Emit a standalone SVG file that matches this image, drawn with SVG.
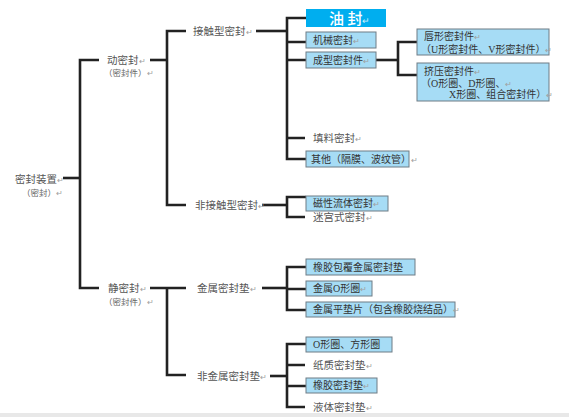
<svg xmlns="http://www.w3.org/2000/svg" width="569" height="417" viewBox="0 0 569 417">
<style>
.ln{fill:none;stroke:#222;stroke-width:2.6;stroke-linejoin:miter;stroke-linecap:butt}
.bx{fill:#a6dcf5;stroke:#6f7c85;stroke-width:1}
.t{font-family:"Liberation Serif","Noto Sans CJK SC",serif;font-size:10.5px;fill:#555}
.tb{font-family:"Liberation Serif","Noto Sans CJK SC",serif;font-size:10px;fill:#333}
.ts{font-family:"Liberation Serif","Noto Sans CJK SC",serif;font-size:8.5px;fill:#666}
.r{fill:#a0a0a0;font-size:8px}
</style>
<rect x="0" y="0" width="569" height="417" fill="#fff"/>
<rect x="0" y="413" width="569" height="4" fill="#e8e8e8"/>
<g id="connectors">
<path class="ln" d="M63,178H80"/>
<path class="ln" d="M99,60H80V288H99"/>
<path class="ln" d="M150,60H167"/>
<path class="ln" d="M186,31H167V205H186"/>
<path class="ln" d="M256,31H287"/>
<path class="ln" d="M306,18H287V159H306"/>
<path class="ln" d="M287,42H306M287,60H306M287,138H305"/>
<path class="ln" d="M376,60H398"/>
<path class="ln" d="M417,42H398V75H417"/>
<path class="ln" d="M262,205H287"/>
<path class="ln" d="M306,197H287V217H305"/>
<path class="ln" d="M150,288H186"/>
<path class="ln" d="M186,375H167V288"/>
<path class="ln" d="M262,288H287"/>
<path class="ln" d="M306,267H287V310H306M287,289H306"/>
<path class="ln" d="M270,376H287"/>
<path class="ln" d="M306,344H287V407H305M287,365H305M287,386H306"/>
</g>
<g id="root"><text class="t" x="15" y="183">密封装置<tspan class="r">↵</tspan></text><text class="ts" x="22" y="196">（密封）<tspan class="r">↵</tspan></text></g>
<g id="dongmifeng"><text class="t" x="107" y="64">动密封<tspan class="r">↵</tspan></text><text class="ts" x="104" y="76">（密封件）<tspan class="r">↵</tspan></text></g>
<g id="jingmifeng"><text class="t" x="108" y="292">静密封<tspan class="r">↵</tspan></text><text class="ts" x="104" y="305">（密封件）<tspan class="r">↵</tspan></text></g>
<g id="jiechu"><text class="t" x="193" y="35">接触型密封<tspan class="r">↵</tspan></text></g>
<g id="feijiechu"><text class="t" x="195" y="209">非接触型密封<tspan class="r">↵</tspan></text></g>
<g id="jinshu"><text class="t" x="197" y="292">金属密封垫<tspan class="r">↵</tspan></text></g>
<g id="feijinshu"><text class="t" x="197" y="380">非金属密封垫<tspan class="r">↵</tspan></text></g>
<g id="youfeng"><rect x="306" y="9" width="80" height="18" fill="#00aeef"/><text x="329" y="24" font-family="Noto Sans CJK SC,sans-serif" font-size="15" font-weight="500" fill="#fff">油 封<tspan fill="#cdeefb" font-size="9" font-weight="normal">↵</tspan></text></g>
<g id="jixie"><rect class="bx" x="306" y="32" width="70" height="16"/><text class="tb" x="313" y="44">机械密封<tspan class="r">↵</tspan></text></g>
<g id="chengxing"><rect class="bx" x="306" y="52" width="70" height="16"/><text class="tb" x="313" y="64">成型密封件<tspan class="r">↵</tspan></text></g>
<g id="chunxing"><rect class="bx" x="417" y="29" width="132" height="26"/><text class="tb" x="424" y="40">唇形密封件<tspan class="r">↵</tspan></text><text class="tb" x="421" y="53">（U形密封件、V形密封件）<tspan class="r">↵</tspan></text></g>
<g id="jiya"><rect class="bx" x="417" y="63" width="132" height="38"/><text class="tb" x="424" y="75">挤压密封件<tspan class="r">↵</tspan></text><text class="tb" x="421" y="87">（O形圈、D形圈、<tspan class="r">↵</tspan></text><text class="tb" x="449" y="98">X形圈、组合密封件）<tspan class="r">↵</tspan></text></g>
<g id="tianliao"><text class="t" x="313" y="142">填料密封<tspan class="r">↵</tspan></text></g>
<g id="qita"><rect class="bx" x="306" y="151" width="103" height="16"/><text class="tb" x="311" y="163">其他（隔膜、波纹管）<tspan class="r">↵</tspan></text></g>
<g id="cixing"><rect class="bx" x="306" y="196" width="82" height="15"/><text class="tb" x="313" y="207">磁性流体密封<tspan class="r">↵</tspan></text></g>
<g id="migong"><text class="t" x="313" y="221">迷宫式密封<tspan class="r">↵</tspan></text></g>
<g id="xiangjiaobaofu"><rect class="bx" x="306" y="259" width="109" height="16"/><text class="tb" x="313" y="271">橡胶包覆金属密封垫</text></g>
<g id="jinshuO"><rect class="bx" x="306" y="281" width="66" height="15"/><text class="tb" x="313" y="292">金属O形圈<tspan class="r">↵</tspan></text></g>
<g id="jinshuping"><rect class="bx" x="306" y="302" width="149" height="15"/><text class="tb" x="313" y="313">金属平垫片（包含橡胶烧结品）<tspan class="r">↵</tspan></text></g>
<g id="Oxing"><rect class="bx" x="306" y="337" width="86" height="15"/><text class="tb" x="313" y="348">O形圈、方形圈</text></g>
<g id="zhizhi"><text class="t" x="313" y="369">纸质密封垫<tspan class="r">↵</tspan></text></g>
<g id="xiangjiao"><rect class="bx" x="306" y="378" width="71" height="15"/><text class="tb" x="313" y="389">橡胶密封垫<tspan class="r">↵</tspan></text></g>
<g id="yeti"><text class="t" x="313" y="411">液体密封垫<tspan class="r">↵</tspan></text></g>
</svg>
